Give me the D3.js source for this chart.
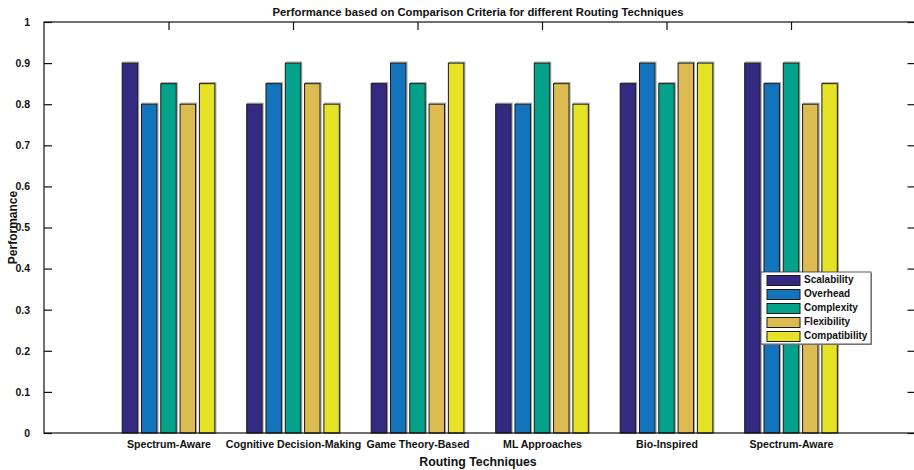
<!DOCTYPE html>
<html>
<head>
<meta charset="utf-8">
<script src="https://cdn.jsdelivr.net/npm/d3@7"></script>
<style>
  body { margin: 0; background: #fff; overflow: hidden; }
  text { font-family: "Liberation Sans", Arial, sans-serif; font-weight: bold; fill: #111; }
</style>
</head>
<body>
<svg id="chart" width="914" height="470"></svg>
<script>
const categories = ["Spectrum-Aware", "Cognitive Decision-Making", "Game Theory-Based", "ML Approaches", "Bio-Inspired", "Spectrum-Aware"];
const series = ["Scalability", "Overhead", "Complexity", "Flexibility", "Compatibility"];
const colors = ["#342a82", "#1374bc", "#04a28a", "#dcbc52", "#e6e226"];
// one row per category, one value per series
const values = [
  [0.90, 0.80, 0.85, 0.80, 0.85],
  [0.80, 0.85, 0.90, 0.85, 0.80],
  [0.85, 0.90, 0.85, 0.80, 0.90],
  [0.80, 0.80, 0.90, 0.85, 0.80],
  [0.85, 0.90, 0.85, 0.90, 0.90],
  [0.90, 0.85, 0.90, 0.80, 0.85]
];
const yTicks = [0, 0.1, 0.2, 0.3, 0.4, 0.5, 0.6, 0.7, 0.8, 0.9, 1];

// right edge of the axes box sits just outside the picture, like the original
const margin = { top: 22, right: -1.5, bottom: 37, left: 44 },
    width = 914 - margin.left - margin.right,
    height = 470 - margin.top - margin.bottom;

const svg = d3.select("#chart");
const g = svg.append("g").attr("transform", "translate(" + margin.left + "," + margin.top + ")");

// category positions like matlab: x = 1..n, xlim [0, n+1]
const x = d3.scaleLinear().domain([0, categories.length + 1]).range([0, width]);
const y = d3.scaleLinear().domain([0, 1]).range([height, 0]);

const step = x(1) - x(0);
const pitch = step * 0.155;
const barW = pitch * 0.8;

// bars
const groups = g.selectAll(".grp")
    .data(values)
    .join("g")
    .attr("class", "grp")
    .attr("transform", (d, i) => "translate(" + x(i + 1) + ",0)");

const barX = j => (j - 2) * pitch - barW / 2;

groups.selectAll(".shadow")
    .data(d => d)
    .join("rect")
    .attr("class", "shadow")
    .attr("x", (d, j) => barX(j) + 1)
    .attr("y", d => y(d) - 1)
    .attr("width", barW)
    .attr("height", d => height - y(d) + 1)
    .attr("fill", "none")
    .attr("stroke", "#a8a8a8")
    .attr("stroke-width", 1.2);

groups.selectAll(".bar")
    .data(d => d)
    .join("rect")
    .attr("class", "bar")
    .attr("x", (d, j) => barX(j))
    .attr("y", d => y(d))
    .attr("width", barW)
    .attr("height", d => height - y(d))
    .attr("fill", (d, j) => colors[j])
    .attr("stroke", "#1a1a1a")
    .attr("stroke-width", 1);

// axes (ticks inward, box)
const tickLen = 8;
const catIdx = d3.range(1, categories.length + 1);

const yAxisL = d3.axisLeft(y).tickValues(yTicks).tickSize(-tickLen).tickPadding(tickLen + 6)
    .tickFormat(d => d3.format("~g")(d));
g.append("g").call(yAxisL).call(a => {
  a.select(".domain").remove();
  a.selectAll("text").style("font-size", "10.5px");
});

const yAxisR = d3.axisRight(y).tickValues(yTicks).tickSize(-tickLen).tickFormat("");
g.append("g").attr("transform", "translate(" + width + ",0)").call(yAxisR)
    .call(a => a.select(".domain").remove());

const xAxisTop = d3.axisTop(x).tickValues(catIdx).tickSize(-tickLen).tickFormat("");
g.append("g").call(xAxisTop).call(a => a.select(".domain").remove());

const xAxisB = d3.axisBottom(x).tickValues(catIdx).tickSize(0).tickPadding(7)
    .tickFormat((d) => categories[d - 1]);
g.append("g").attr("transform", "translate(0," + height + ")").call(xAxisB).call(a => {
  a.select(".domain").remove();
  a.selectAll("text").style("font-size", "10.6px");
});

g.append("rect")
    .attr("x", 0).attr("y", 0)
    .attr("width", width).attr("height", height)
    .attr("fill", "none").attr("stroke", "#111").attr("stroke-width", 1.2);

g.selectAll(".tick line").attr("stroke", "#111").attr("stroke-width", 1.2);

// labels
svg.append("text")
    .attr("x", margin.left + 434).attr("y", 16)
    .attr("text-anchor", "middle").style("font-size", "11.3px")
    .text("Performance based on Comparison Criteria for different Routing Techniques");

svg.append("text")
    .attr("x", margin.left + 434).attr("y", 466)
    .attr("text-anchor", "middle").style("font-size", "12.3px")
    .text("Routing Techniques");

svg.append("text")
    .attr("transform", "translate(17," + (margin.top + height / 2) + ") rotate(-90)")
    .attr("text-anchor", "middle").style("font-size", "12px")
    .text("Performance");

// legend
const legend = svg.append("g").attr("transform", "translate(761,272)");
legend.append("rect")
    .attr("x", 1).attr("y", 1).attr("width", 110).attr("height", 72)
    .attr("fill", "#999");
legend.append("rect")
    .attr("width", 110).attr("height", 72)
    .attr("fill", "#fff").attr("stroke", "#333").attr("stroke-width", 0.8);

const items = legend.selectAll(".item")
    .data(series)
    .join("g")
    .attr("class", "item")
    .attr("transform", (d, i) => "translate(6," + (3.5 + i * 14) + ")");

items.append("rect")
    .attr("width", 33).attr("height", 10)
    .attr("fill", (d, i) => colors[i])
    .attr("stroke", "#1a1a1a").attr("stroke-width", 1);

items.append("text")
    .attr("x", 37).attr("y", 5)
    .attr("dominant-baseline", "middle")
    .style("font-size", "10px")
    .text(d => d);
</script>
</body>
</html>
